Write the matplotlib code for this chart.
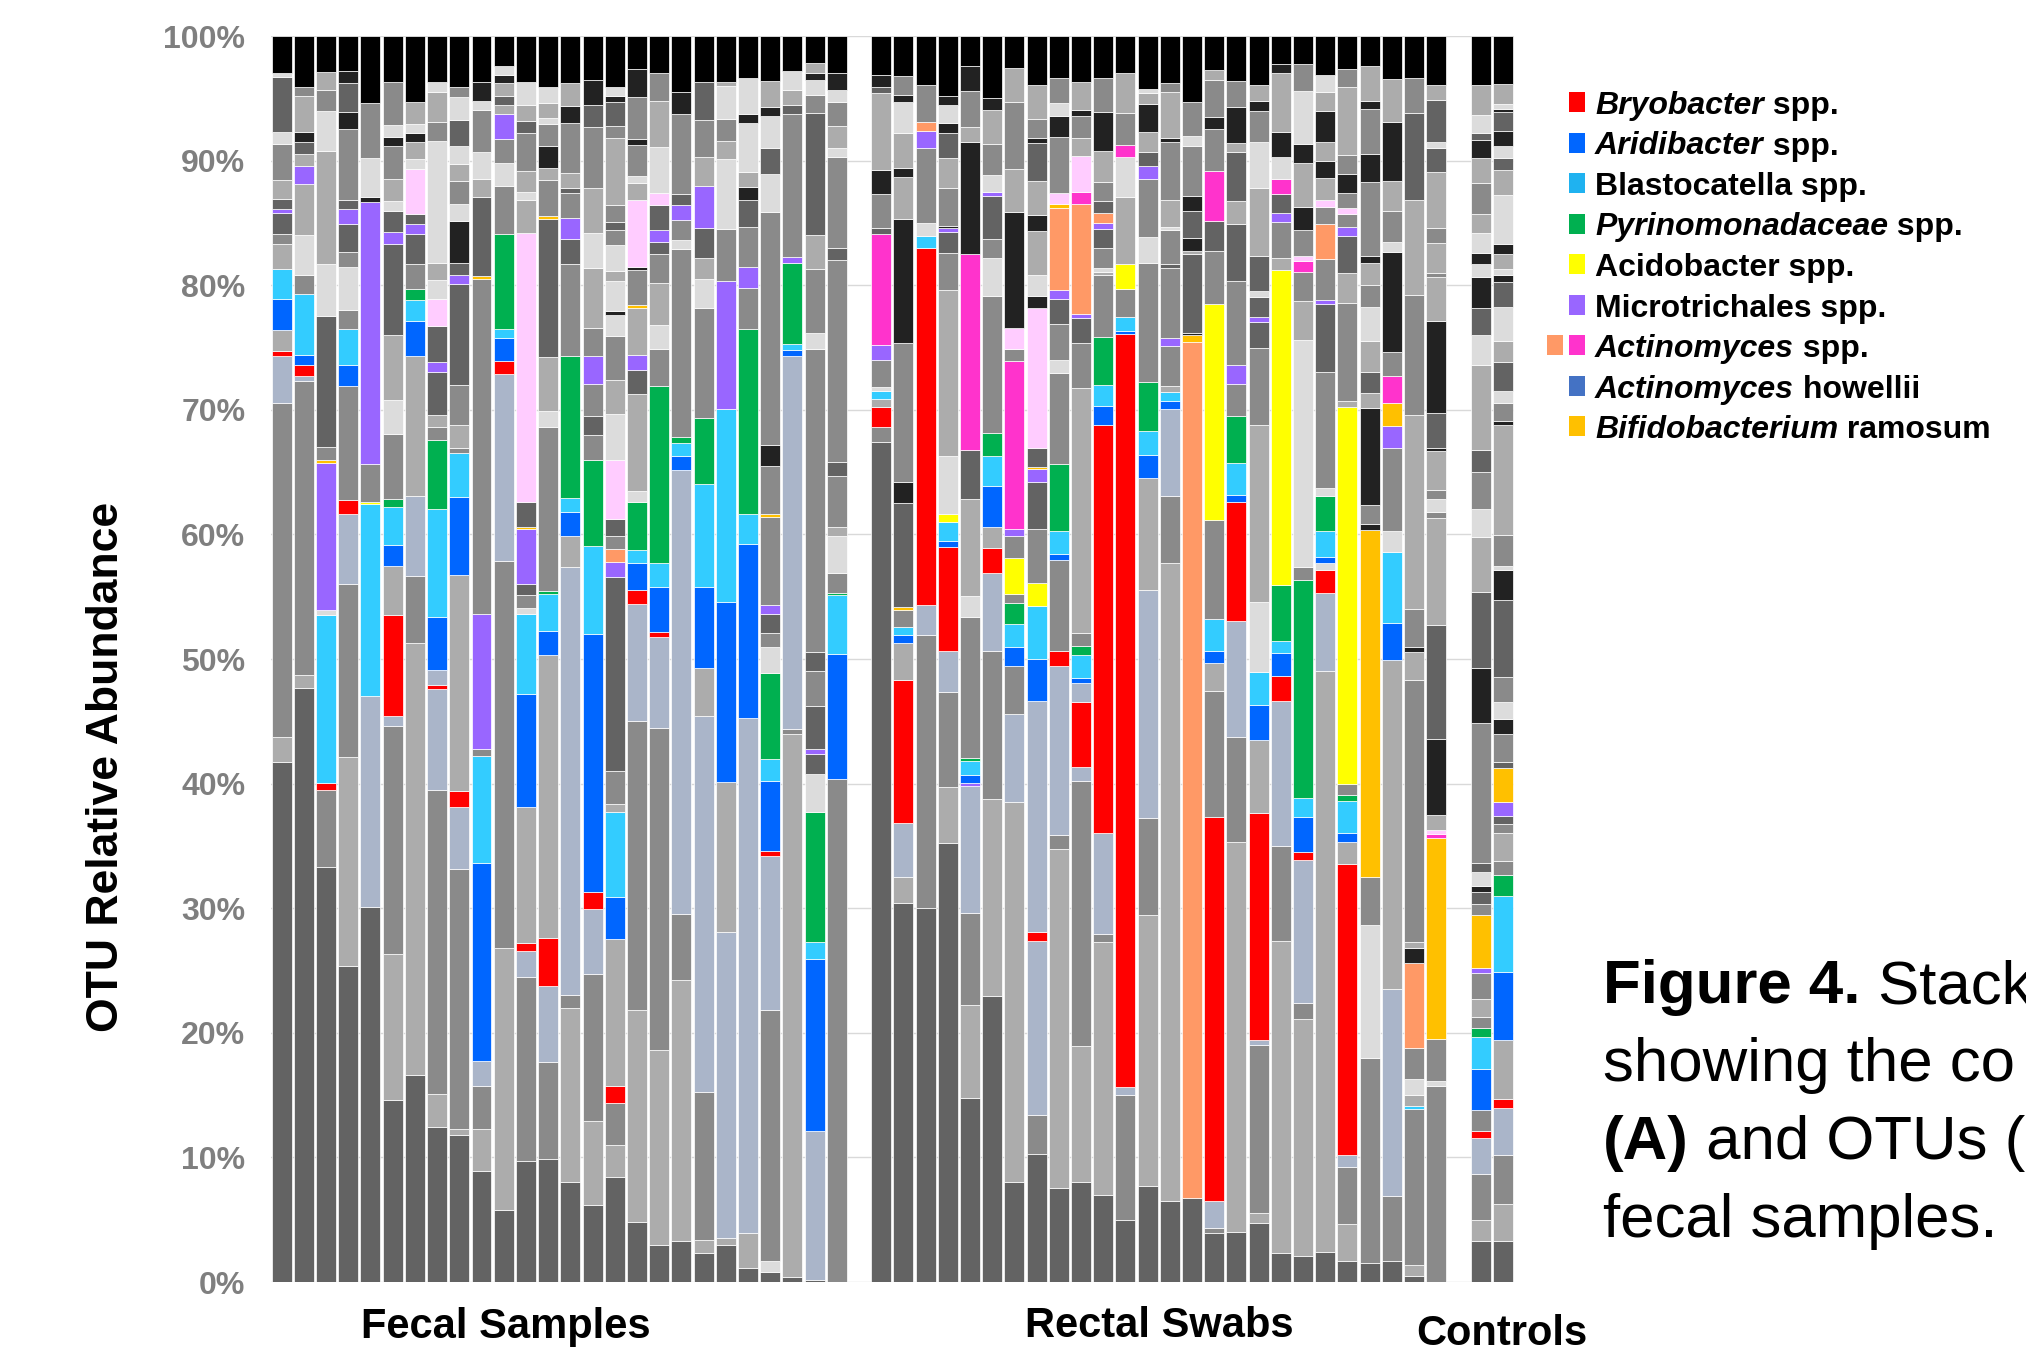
import numpy as np
import matplotlib
matplotlib.use("Agg")
import matplotlib.pyplot as plt
from matplotlib.patches import Rectangle

plt.rcParams["font.family"] = ["Liberation Sans", "DejaVu Sans"]

# colour keys: greys K N D M G L, bluish grey B, pale pink P, taxa in lower case
palette = {
    "K": "#000000", "N": "#222222", "D": "#636363", "M": "#8a8a8a",
    "G": "#acacac", "L": "#dcdcdc", "B": "#aab5c9", "P": "#ffccff",
    "r": "#ff0000", "b": "#0066ff", "c": "#33ccff", "g": "#00b050",
    "y": "#ffff00", "p": "#9966ff", "s": "#ff9966", "m": "#ff33cc",
    "o": "#ffc000", "h": "#4472c4", "c2": "#1fb2f0",
}

# ---- segments per sample, bottom to top: (colour key, % abundance) ----
fecal = [
    [("D", 41.8), ("G", 2.0), ("M", 26.8), ("B", 3.8), ("r", 0.4), ("G", 1.7), ("b", 2.5), ("c", 2.4), ("G", 2.0), ("M", 0.8), ("D", 1.7), ("p", 0.3), ("D", 0.8), ("G", 1.5), ("M", 2.9), ("L", 1.0), ("D", 4.4), ("L", 0.3), ("K", 3.0)],
    [("D", 47.7), ("G", 1.0), ("M", 23.6), ("B", 0.4), ("r", 0.9), ("b", 0.8), ("c", 4.9), ("M", 1.5), ("L", 3.2), ("G", 4.1), ("p", 1.5), ("G", 0.9), ("D", 1.0), ("N", 0.8), ("G", 2.9), ("M", 0.7), ("K", 4.1)],
    [("D", 33.3), ("M", 6.2), ("r", 0.6), ("c", 13.5), ("L", 0.4), ("p", 11.8), ("o", 0.2), ("M", 1.1), ("D", 10.5), ("L", 4.2), ("G", 9.1), ("L", 3.2), ("M", 1.7), ("G", 1.4), ("K", 2.9)],
    [("D", 25.4), ("G", 16.7), ("M", 13.9), ("B", 5.6), ("r", 1.2), ("M", 9.1), ("b", 1.7), ("c", 2.9), ("M", 1.5), ("L", 3.5), ("M", 1.2), ("D", 2.2), ("p", 1.2), ("D", 0.7), ("M", 5.7), ("N", 1.4), ("D", 2.3), ("N", 1.0), ("K", 2.8)],
    [("D", 30.1), ("B", 17.0), ("c", 15.4), ("y", 0.2), ("M", 3.0), ("p", 21.1), ("N", 0.4), ("L", 3.1), ("M", 4.4), ("K", 5.4)],
    [("D", 14.6), ("G", 11.7), ("M", 18.3), ("B", 0.8), ("r", 8.1), ("G", 3.9), ("b", 1.7), ("c", 3.0), ("g", 0.7), ("M", 5.2), ("L", 2.7), ("G", 5.2), ("D", 7.3), ("p", 1.0), ("D", 1.7), ("L", 0.8), ("G", 1.7), ("M", 2.7), ("N", 0.7), ("L", 1.0), ("M", 3.4), ("K", 3.7)],
    [("D", 16.6), ("G", 34.7), ("M", 5.4), ("B", 6.4), ("G", 11.2), ("b", 2.8), ("c", 1.7), ("g", 0.9), ("M", 2.0), ("D", 2.4), ("p", 0.8), ("D", 0.8), ("P", 3.6), ("L", 0.8), ("G", 1.4), ("N", 0.7), ("L", 0.7), ("G", 1.8), ("K", 5.3)],
    [("D", 12.4), ("G", 2.7), ("M", 24.4), ("B", 8.1), ("r", 0.3), ("B", 1.2), ("b", 4.3), ("c", 8.6), ("g", 5.6), ("M", 1.0), ("G", 1.0), ("D", 3.4), ("p", 0.8), ("D", 2.9), ("P", 2.2), ("L", 1.5), ("G", 1.4), ("L", 9.8), ("M", 1.5), ("G", 2.4), ("L", 0.8), ("K", 3.7)],
    [("D", 11.8), ("G", 0.5), ("M", 20.8), ("B", 5.0), ("r", 1.3), ("G", 17.3), ("b", 6.2), ("c", 3.6), ("M", 0.4), ("G", 1.8), ("M", 3.2), ("D", 8.1), ("p", 0.7), ("D", 1.0), ("N", 3.4), ("L", 1.3), ("M", 1.9), ("G", 1.3), ("L", 1.5), ("D", 2.1), ("L", 1.8), ("M", 0.8), ("K", 4.1)],
    [("D", 8.9), ("G", 3.4), ("M", 3.4), ("B", 2.0), ("b", 15.9), ("c", 8.6), ("M", 0.6), ("p", 10.8), ("M", 26.9), ("o", 0.2), ("D", 6.4), ("G", 1.4), ("L", 2.2), ("M", 3.4), ("L", 0.7), ("N", 1.5), ("K", 3.7)],
    [("D", 5.8), ("G", 21.0), ("M", 31.1), ("B", 15.0), ("r", 1.0), ("b", 1.9), ("c", 0.7), ("g", 7.6), ("M", 3.9), ("L", 1.8), ("M", 1.9), ("p", 2.0), ("G", 0.8), ("D", 0.7), ("G", 1.0), ("N", 0.7), ("L", 0.7), ("K", 2.4)],
    [("D", 9.7), ("M", 14.8), ("B", 2.1), ("r", 0.6), ("G", 10.9), ("b", 9.1), ("c", 6.4), ("L", 0.5), ("M", 1.0), ("D", 0.9), ("p", 4.4), ("o", 0.2), ("D", 2.0), ("P", 21.6), ("G", 2.6), ("L", 0.7), ("G", 1.7), ("M", 3.0), ("D", 1.0), ("G", 1.3), ("L", 1.8), ("K", 3.7)],
    [("D", 9.9), ("M", 7.8), ("B", 6.1), ("r", 3.8), ("G", 22.8), ("b", 1.9), ("c", 3.0), ("g", 0.2), ("M", 13.2), ("L", 1.3), ("G", 4.3), ("D", 11.1), ("o", 0.2), ("M", 2.9), ("G", 1.0), ("N", 1.8), ("M", 1.7), ("L", 0.5), ("G", 1.2), ("L", 1.3), ("K", 4.1)],
    [("D", 8.0), ("G", 14.0), ("M", 1.0), ("B", 34.4), ("G", 2.5), ("b", 1.9), ("c", 1.1), ("g", 11.4), ("M", 7.4), ("D", 2.0), ("p", 1.7), ("M", 2.0), ("D", 0.4), ("G", 1.2), ("M", 4.0), ("N", 1.4), ("G", 1.8), ("K", 3.8)],
    [("D", 6.2), ("G", 6.7), ("M", 11.8), ("B", 5.2), ("r", 1.4), ("b", 20.7), ("c", 7.1), ("g", 6.9), ("M", 2.0), ("D", 1.5), ("M", 2.6), ("p", 2.2), ("M", 2.3), ("G", 4.8), ("L", 2.8), ("G", 3.6), ("M", 4.9), ("D", 1.8), ("N", 2.0), ("K", 3.5)],
    [("D", 8.4), ("G", 2.6), ("M", 3.4), ("r", 1.3), ("G", 11.8), ("b", 3.4), ("c", 6.8), ("G", 0.7), ("M", 2.6), ("D", 15.6), ("p", 1.2), ("s", 1.0), ("M", 1.1), ("D", 1.3), ("P", 4.8), ("L", 3.7), ("G", 2.7), ("M", 3.5), ("L", 1.7), ("N", 0.3), ("L", 2.4), ("G", 0.8), ("L", 2.1), ("M", 1.2), ("D", 0.7), ("M", 1.3), ("G", 5.4), ("M", 1.0), ("D", 1.9), ("N", 0.5), ("L", 0.7), ("K", 4.1)],
    [("D", 4.3), ("G", 15.3), ("M", 20.9), ("B", 8.4), ("r", 1.0), ("b", 2.0), ("c", 0.9), ("g", 3.5), ("L", 0.8), ("G", 7.0), ("D", 1.7), ("p", 1.1), ("G", 3.4), ("o", 0.2), ("M", 2.5), ("N", 0.2), ("P", 4.9), ("G", 1.2), ("L", 0.5), ("M", 2.2), ("N", 0.5), ("M", 3.0), ("N", 2.0), ("K", 2.4)],
    [("D", 3.0), ("G", 15.6), ("M", 25.9), ("B", 7.3), ("r", 0.4), ("b", 3.6), ("c", 1.9), ("g", 14.2), ("M", 3.0), ("L", 1.9), ("G", 3.4), ("M", 2.3), ("D", 1.0), ("p", 0.9), ("D", 2.0), ("P", 1.0), ("L", 3.7), ("G", 3.7), ("M", 2.2), ("K", 3.0)],
    [("D", 3.3), ("G", 20.9), ("M", 5.3), ("B", 35.7), ("b", 1.1), ("c", 1.0), ("g", 0.5), ("M", 15.1), ("L", 0.7), ("M", 1.6), ("p", 1.2), ("D", 0.9), ("M", 6.4), ("N", 1.8), ("K", 4.5)],
    [("D", 2.3), ("G", 1.1), ("M", 11.8), ("B", 30.1), ("G", 3.9), ("b", 6.5), ("c", 8.2), ("g", 5.3), ("M", 8.8), ("L", 2.3), ("G", 1.7), ("D", 2.4), ("p", 3.4), ("G", 2.3), ("M", 3.0), ("D", 3.0), ("K", 3.7)],
    [("D", 3.0), ("G", 0.5), ("B", 24.6), ("G", 12.0), ("b", 14.5), ("c", 15.5), ("p", 10.2), ("M", 4.2), ("L", 5.6), ("G", 1.5), ("M", 1.7), ("L", 2.7), ("G", 0.3), ("K", 3.7)],
    [("D", 1.1), ("G", 2.8), ("B", 41.4), ("b", 13.9), ("c", 2.4), ("g", 14.9), ("M", 3.3), ("p", 1.7), ("M", 3.2), ("D", 2.1), ("N", 1.1), ("G", 1.2), ("L", 3.9), ("N", 0.7), ("L", 2.9), ("K", 3.4)],
    [("D", 0.8), ("L", 0.9), ("M", 20.1), ("B", 12.4), ("r", 0.4), ("b", 5.6), ("c", 1.8), ("g", 6.9), ("L", 2.1), ("M", 1.1), ("D", 1.5), ("p", 0.7), ("M", 7.1), ("o", 0.2), ("M", 3.9), ("N", 1.7), ("M", 18.7), ("L", 3.0), ("D", 2.1), ("L", 2.6), ("N", 0.7), ("G", 2.1), ("K", 3.6)],
    [("D", 0.4), ("G", 43.6), ("M", 0.4), ("B", 29.9), ("b", 0.5), ("c", 0.5), ("g", 6.5), ("p", 0.5), ("M", 11.4), ("D", 0.8), ("G", 1.2), ("L", 1.5), ("K", 2.8)],
    [("D", 0.2), ("B", 11.9), ("b", 13.8), ("c", 1.4), ("g", 10.4), ("L", 3.1), ("D", 1.6), ("p", 0.4), ("D", 3.4), ("M", 2.8), ("D", 1.6), ("M", 24.3), ("L", 1.3), ("M", 5.1), ("G", 2.7), ("D", 9.8), ("M", 1.5), ("L", 1.2), ("N", 0.5), ("G", 0.8), ("K", 2.2)],
    [("M", 40.4), ("b", 10.0), ("c", 4.7), ("g", 0.2), ("M", 1.6), ("L", 3.0), ("G", 0.7), ("M", 4.1), ("D", 1.1), ("M", 16.2), ("D", 1.0), ("M", 7.3), ("L", 0.7), ("G", 1.8), ("M", 1.9), ("L", 1.0), ("N", 1.3), ("K", 3.0)],
]

rectal = [
    [("D", 67.5), ("M", 1.2), ("r", 1.6), ("G", 0.6), ("c", 0.7), ("L", 0.3), ("M", 2.2), ("p", 1.2), ("m", 8.9), ("D", 0.5), ("M", 2.7), ("N", 1.9), ("G", 6.2), ("D", 0.5), ("N", 1.0), ("K", 3.1)],
    [("D", 30.4), ("G", 2.1), ("B", 4.3), ("r", 11.5), ("G", 3.0), ("b", 0.6), ("c", 0.7), ("M", 1.3), ("o", 0.3), ("D", 8.3), ("N", 1.7), ("M", 11.2), ("N", 9.9), ("G", 3.4), ("N", 0.7), ("G", 2.8), ("L", 2.5), ("N", 0.6), ("M", 1.5), ("K", 3.2)],
    [("D", 29.9), ("M", 21.9), ("B", 2.4), ("r", 28.5), ("c", 1.0), ("L", 1.0), ("M", 6.0), ("p", 1.4), ("s", 0.7), ("M", 3.0), ("K", 3.9)],
    [("D", 35.2), ("G", 4.5), ("M", 7.6), ("B", 3.3), ("r", 8.3), ("b", 0.5), ("c", 1.5), ("y", 0.7), ("L", 4.6), ("G", 13.3), ("M", 3.0), ("D", 1.7), ("p", 0.3), ("N", 0.2), ("M", 3.0), ("G", 2.4), ("D", 2.0), ("N", 0.8), ("L", 1.5), ("N", 0.7), ("K", 4.8)],
    [("D", 14.8), ("G", 7.5), ("M", 7.4), ("B", 10.2), ("p", 0.2), ("b", 0.7), ("c", 1.1), ("g", 0.2), ("M", 11.4), ("L", 1.7), ("G", 7.8), ("D", 3.9), ("m", 15.8), ("N", 9.0), ("G", 1.2), ("M", 2.9), ("N", 2.0), ("K", 2.4)],
    [("D", 22.7), ("G", 15.6), ("M", 11.7), ("B", 6.2), ("r", 2.0), ("G", 1.7), ("b", 3.2), ("c", 2.4), ("g", 1.8), ("M", 10.9), ("L", 3.0), ("M", 1.5), ("D", 3.4), ("p", 0.3), ("L", 1.4), ("M", 2.4), ("G", 2.7), ("N", 1.0), ("K", 4.9)],
    [("D", 8.0), ("G", 30.5), ("B", 7.1), ("M", 3.8), ("b", 1.6), ("c", 1.8), ("g", 1.7), ("M", 0.7), ("y", 2.9), ("M", 1.8), ("p", 0.5), ("m", 13.5), ("M", 1.0), ("P", 1.7), ("N", 9.3), ("G", 3.4), ("M", 5.4), ("G", 2.7), ("K", 2.6)],
    [("D", 10.1), ("M", 3.1), ("B", 13.8), ("r", 0.7), ("B", 18.3), ("b", 3.3), ("c", 4.2), ("y", 1.8), ("M", 4.3), ("D", 3.7), ("p", 1.0), ("o", 0.2), ("D", 1.5), ("P", 11.1), ("N", 0.9), ("L", 1.7), ("G", 3.5), ("N", 1.2), ("G", 2.7), ("D", 3.0), ("N", 0.4), ("M", 1.5), ("G", 2.7), ("K", 3.9)],
    [("D", 7.5), ("G", 27.2), ("M", 1.1), ("B", 13.6), ("r", 1.2), ("M", 7.3), ("b", 0.5), ("c", 1.8), ("g", 5.4), ("M", 7.3), ("L", 1.0), ("M", 2.9), ("D", 2.0), ("p", 0.7), ("s", 6.6), ("o", 0.3), ("P", 0.9), ("M", 4.5), ("N", 1.7), ("L", 1.0), ("M", 2.0), ("K", 3.4)],
    [("D", 8.0), ("G", 10.9), ("M", 21.3), ("B", 1.1), ("r", 5.2), ("B", 1.5), ("b", 0.4), ("c", 1.9), ("g", 0.7), ("M", 1.0), ("G", 19.7), ("M", 3.6), ("D", 2.0), ("p", 0.3), ("s", 8.8), ("m", 1.0), ("P", 2.9), ("G", 1.4), ("M", 1.8), ("N", 0.5), ("G", 2.2), ("K", 3.7)],
    [("D", 7.0), ("G", 20.3), ("M", 0.6), ("B", 8.1), ("r", 32.7), ("b", 1.5), ("c", 1.7), ("g", 3.9), ("M", 4.9), ("G", 0.3), ("L", 0.3), ("M", 1.6), ("D", 1.5), ("p", 0.5), ("s", 0.8), ("D", 1.0), ("M", 1.5), ("G", 2.5), ("N", 3.1), ("M", 2.7), ("K", 3.4)],
    [("D", 5.0), ("M", 10.0), ("B", 0.6), ("r", 60.3), ("b", 0.3), ("c", 1.1), ("M", 2.2), ("y", 2.0), ("G", 5.4), ("L", 3.2), ("m", 1.0), ("M", 2.5), ("G", 3.2), ("K", 3.0)],
    [("D", 6.9), ("G", 19.6), ("M", 7.0), ("B", 16.4), ("G", 8.1), ("b", 1.7), ("c", 1.7), ("g", 3.5), ("M", 8.6), ("L", 1.9), ("M", 4.2), ("p", 0.9), ("D", 1.0), ("G", 1.5), ("N", 2.0), ("G", 0.8), ("L", 0.3), ("K", 3.8)],
    [("D", 6.5), ("G", 51.2), ("M", 5.4), ("B", 7.0), ("b", 0.6), ("c", 0.7), ("G", 0.5), ("M", 3.2), ("p", 0.7), ("M", 5.6), ("D", 0.3), ("M", 2.7), ("L", 0.3), ("G", 2.1), ("M", 4.7), ("N", 0.3), ("G", 3.7), ("M", 0.7), ("K", 3.8)],
    [("D", 6.7), ("s", 68.7), ("o", 0.5), ("N", 0.2), ("D", 6.3), ("G", 0.3), ("N", 1.0), ("D", 2.2), ("N", 1.2), ("M", 4.0), ("L", 0.8), ("M", 2.7), ("K", 5.3)],
    [("D", 4.0), ("M", 0.4), ("B", 2.2), ("r", 31.4), ("M", 10.3), ("G", 2.3), ("b", 1.0), ("c", 2.6), ("M", 8.1), ("y", 17.7), ("M", 4.3), ("D", 2.5), ("m", 4.1), ("M", 3.4), ("N", 1.0), ("M", 3.0), ("G", 0.8), ("K", 2.8)],
    [("D", 3.8), ("G", 29.5), ("M", 7.9), ("B", 8.8), ("r", 9.0), ("b", 0.5), ("c", 2.4), ("g", 3.6), ("M", 2.4), ("p", 1.4), ("M", 6.4), ("D", 4.3), ("G", 1.7), ("D", 3.7), ("G", 0.7), ("N", 2.7), ("M", 2.0), ("K", 3.4)],
    [("D", 4.7), ("G", 0.8), ("M", 13.5), ("B", 0.4), ("r", 18.1), ("G", 5.9), ("b", 2.8), ("c", 2.6), ("L", 5.6), ("G", 14.2), ("M", 6.1), ("D", 2.1), ("p", 0.4), ("D", 1.6), ("L", 0.5), ("D", 2.8), ("G", 5.4), ("L", 3.7), ("M", 2.5), ("N", 0.8), ("G", 1.3), ("K", 3.9)],
    [("D", 2.3), ("G", 24.7), ("M", 7.5), ("B", 11.5), ("r", 2.0), ("b", 1.8), ("c", 1.0), ("g", 4.4), ("y", 25.0), ("G", 0.9), ("M", 2.9), ("p", 0.7), ("D", 1.5), ("m", 1.2), ("L", 1.7), ("N", 2.0), ("G", 4.7), ("N", 0.7), ("K", 2.2)],
    [("D", 2.1), ("G", 18.8), ("M", 1.3), ("B", 11.4), ("r", 0.6), ("b", 2.8), ("c", 1.5), ("g", 17.3), ("M", 1.1), ("L", 18.0), ("G", 3.1), ("M", 2.3), ("m", 0.9), ("P", 0.4), ("M", 2.1), ("N", 1.8), ("G", 3.5), ("N", 1.5), ("L", 4.2), ("M", 2.2), ("K", 2.2)],
    [("D", 2.4), ("G", 45.9), ("B", 6.2), ("r", 1.8), ("L", 0.5), ("b", 0.5), ("c", 2.1), ("g", 2.7), ("L", 0.7), ("M", 9.1), ("D", 5.4), ("p", 0.3), ("M", 3.3), ("s", 2.7), ("M", 1.4), ("P", 0.5), ("G", 1.8), ("N", 1.3), ("G", 1.5), ("N", 2.5), ("G", 1.5), ("L", 1.3), ("K", 3.1)],
    [("D", 1.7), ("G", 2.9), ("M", 4.6), ("B", 0.9), ("r", 23.2), ("G", 1.8), ("b", 0.7), ("c", 2.5), ("g", 0.5), ("M", 0.9), ("y", 30.0), ("G", 0.5), ("M", 7.8), ("G", 2.4), ("D", 3.0), ("p", 0.7), ("M", 1.0), ("P", 0.5), ("M", 1.2), ("N", 1.5), ("M", 1.5), ("G", 5.4), ("M", 1.5), ("K", 2.6)],
    [("D", 1.5), ("M", 16.2), ("L", 10.5), ("M", 3.8), ("o", 27.4), ("N", 0.5), ("M", 1.5), ("N", 7.6), ("G", 1.2), ("D", 1.7), ("G", 2.4), ("L", 2.7), ("M", 1.7), ("G", 1.8), ("N", 0.5), ("M", 5.9), ("N", 2.2), ("M", 3.5), ("N", 0.7), ("G", 2.7), ("K", 2.4)],
    [("D", 1.7), ("M", 5.2), ("B", 16.5), ("G", 26.2), ("b", 3.0), ("c", 5.6), ("L", 1.7), ("M", 6.6), ("p", 1.8), ("o", 1.8), ("m", 2.2), ("M", 1.9), ("N", 8.0), ("L", 0.8), ("M", 2.4), ("G", 2.4), ("N", 4.7), ("G", 3.5), ("K", 3.4)],
    [("D", 0.5), ("G", 0.9), ("M", 12.5), ("c", 0.2), ("G", 0.9), ("L", 1.3), ("M", 2.5), ("s", 6.8), ("N", 1.2), ("G", 0.5), ("M", 21.0), ("G", 2.3), ("N", 0.4), ("M", 3.0), ("G", 15.6), ("M", 9.6), ("G", 7.6), ("D", 7.0), ("M", 2.8), ("K", 3.4)],
    [("M", 15.7), ("L", 0.4), ("M", 3.4), ("o", 16.1), ("m", 0.3), ("P", 0.3), ("G", 1.2), ("N", 6.1), ("D", 9.1), ("G", 8.6), ("M", 0.5), ("L", 1.0), ("M", 0.7), ("G", 3.2), ("N", 0.2), ("D", 2.8), ("N", 7.4), ("G", 3.5), ("M", 0.3), ("G", 2.4), ("M", 1.2), ("G", 4.5), ("D", 1.9), ("L", 0.5), ("D", 3.4), ("G", 1.2), ("K", 3.9)],
]

controls = [
    [("D", 3.2), ("G", 1.6), ("M", 3.6), ("B", 2.8), ("r", 0.6), ("M", 1.6), ("b", 3.2), ("c", 2.5), ("g", 0.7), ("M", 0.9), ("G", 1.4), ("M", 2.0), ("p", 0.4), ("o", 4.1), ("M", 0.9), ("D", 0.9), ("N", 0.5), ("L", 1.1), ("D", 0.7), ("M", 10.9), ("N", 4.3), ("D", 5.9), ("G", 4.3), ("L", 2.2), ("M", 2.9), ("D", 1.7), ("G", 6.6), ("L", 2.4), ("D", 2.1), ("N", 2.4), ("L", 1.0), ("N", 0.9), ("L", 1.5), ("G", 1.5), ("M", 2.4), ("G", 2.0), ("N", 1.4), ("D", 0.5), ("L", 1.4), ("G", 2.4), ("K", 3.8)],
    [("D", 3.3), ("G", 2.9), ("M", 3.9), ("B", 3.8), ("r", 0.7), ("G", 4.7), ("b", 5.4), ("c", 6.1), ("g", 1.7), ("M", 1.1), ("G", 2.2), ("M", 0.7), ("D", 0.7), ("p", 1.1), ("o", 2.7), ("D", 0.5), ("M", 2.2), ("N", 1.2), ("L", 1.4), ("M", 2.0), ("D", 6.1), ("N", 2.4), ("L", 0.3), ("M", 2.5), ("G", 8.8), ("N", 0.3), ("M", 1.4), ("L", 1.0), ("D", 2.3), ("G", 1.7), ("L", 2.7), ("D", 2.0), ("N", 0.5), ("L", 0.5), ("G", 1.2), ("N", 0.8), ("L", 3.9), ("G", 2.0), ("D", 1.0), ("L", 0.9), ("N", 1.2), ("D", 1.5), ("N", 0.3), ("L", 0.4), ("G", 1.6), ("K", 3.8)],
]

group_labels = ["Fecal Samples", "Rectal Swabs", "Controls"]
y_ticks = [0, 10, 20, 30, 40, 50, 60, 70, 80, 90, 100]

legend_names = [
    ("Bryobacter", " spp."), ("Aridibacter", " spp."), ("", "Blastocatella spp."),
    ("Pyrinomonadaceae", " spp."), ("", "Acidobacter spp."), ("", "Microtrichales spp."),
    ("Actinomyces", " spp."), ("Actinomyces", " howellii"), ("Bifidobacterium", " ramosum"),
]
legend_keys = [["r"], ["b"], ["c2"], ["g"], ["y"], ["p"], ["s", "m"], ["h"], ["o"]]

# caption as it shows in the reference, which is cut by the right edge
caption_lines = [
    [("Figure 4.", "bold"), (" Stack", "normal")],
    [("showing the co", "normal")],
    [("(A)", "bold"), (" and OTUs (", "normal")],
    [("fecal samples.", "normal")],
]

# ---- figure ----
W, H = 2026, 1364
fig = plt.figure(figsize=(W / 100, H / 100), dpi=100)
ax = fig.add_axes([271 / W, 1 - 1282 / H, (1514 - 271) / W, (1282 - 36) / H])

positions = np.concatenate([np.arange(26), np.arange(27, 53), np.arange(54, 56)])
all_bars = fecal + rectal + controls

xs, hs, bs, cs = [], [], [], []
for x, segs in zip(positions, all_bars):
    total = sum(v for _, v in segs)
    bottom = 0.0
    for key, v in segs:
        h = v * 100.0 / total
        xs.append(x)
        hs.append(h)
        bs.append(bottom)
        cs.append(palette[key])
        bottom += h

ax.bar(xs, hs, bottom=bs, width=0.9, color=cs, edgecolor="white", linewidth=0.5, zorder=2)

ax.set_xlim(-0.48, 55.5)
ax.set_ylim(0, 100)
ax.set_yticks(y_ticks)
ax.set_yticklabels([f"{t}%" for t in y_ticks], fontsize=23, fontweight="bold", color="#7f7f7f")
ax.tick_params(axis="y", length=0, pad=18.5)
ax.set_xticks([])
ax.yaxis.grid(True, color="#d9d9d9", linewidth=1.0, zorder=0)
ax.set_axisbelow(True)
for sp in ax.spines.values():
    sp.set_visible(False)

fig.text(106 / W, 1 - 767 / H, "OTU Relative Abundance", rotation=90,
         ha="center", va="center", fontsize=32, fontweight="bold")

label_x = [506, 1159, 1502]
label_base = [1338, 1337, 1345]
for lab, lx, ly in zip(group_labels, label_x, label_base):
    fig.text(lx / W, 1 - ly / H, lab, ha="center", va="baseline", fontsize=30, fontweight="bold")

renderer = fig.canvas.get_renderer()
inv = fig.transFigure.inverted()


def run_text(x_px, base_px, parts, size):
    x = x_px / W
    for s, weight, style in parts:
        if not s:
            continue
        t = fig.text(x, 1 - base_px / H, s, fontsize=size, fontweight=weight,
                     fontstyle=style, ha="left", va="baseline")
        bb = t.get_window_extent(renderer)
        x = inv.transform((bb.x1, bb.y0))[0]


# legend
for i, ((ital, rest), keys) in enumerate(zip(legend_names, legend_keys)):
    yc = 102 + 40.5 * i
    for j, k in enumerate(reversed(keys)):
        x0 = 1569 - 22 * j
        fig.add_artist(Rectangle((x0 / W, 1 - (yc + 10) / H), 16 / W, 20 / H,
                                 transform=fig.transFigure, facecolor=palette[k],
                                 edgecolor="none"))
    run_text(1595, yc + 12, [(ital, "bold", "italic"), (rest, "bold", "normal")], 23)

for i, line in enumerate(caption_lines):
    run_text(1603, 1003 + 78 * i, [(s, w, "normal") for s, w in line], 44.5)

fig.savefig("out.png", dpi=100)
